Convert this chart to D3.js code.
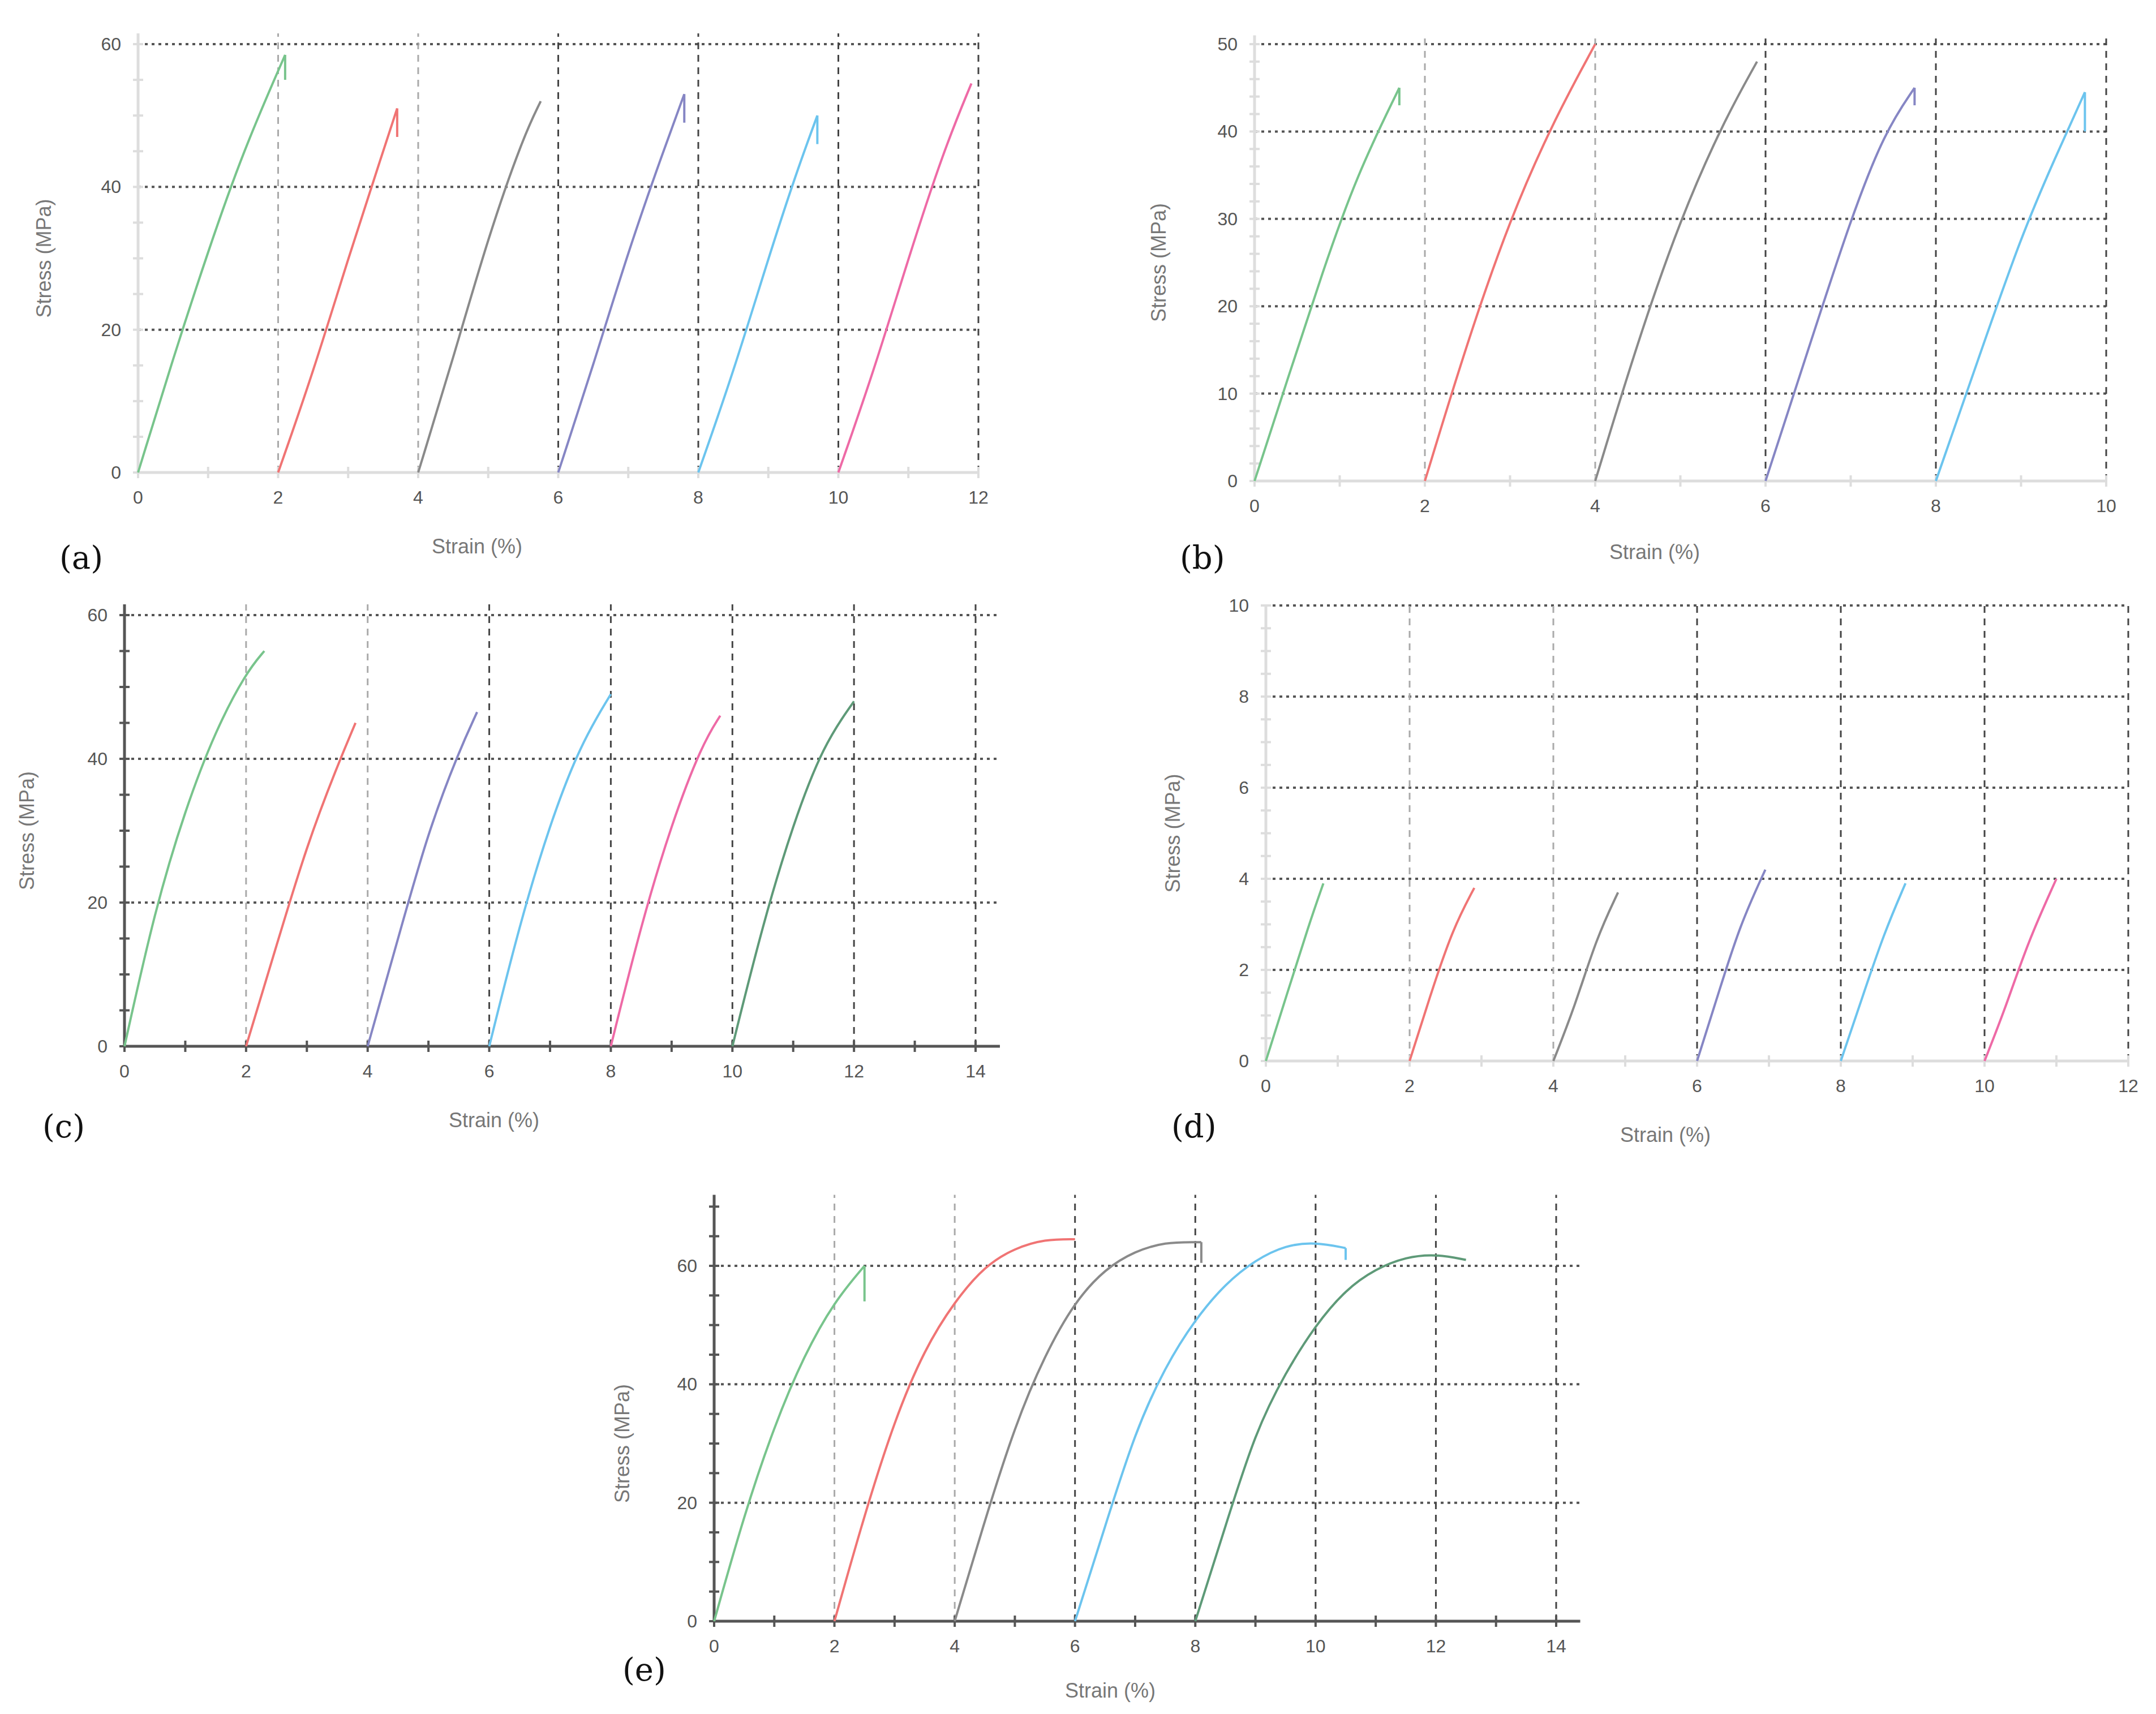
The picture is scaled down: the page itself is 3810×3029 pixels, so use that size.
<!DOCTYPE html>
<html><head><meta charset="utf-8">
<script src="https://cdn.jsdelivr.net/npm/d3@7"></script>
<style>body{margin:0;background:#fff}</style></head>
<body><svg id="c" width="3810" height="3029"></svg>
<script>
const colors = {green:"#78c48c", red:"#f07474", gray:"#8a8a8a", purple:"#8686c4", cyan:"#6cc4ee", pink:"#ee6aa6", dkgreen:"#5e9a78"};
const seriesA = [
 ["green",[[0,0],[0.5,16],[1,31],[1.5,45],[2.1,58.5],[2.1,55]]],
 ["red",[[2,0],[2.5,14],[3,30],[3.5,45],[3.7,51],[3.7,47]]],
 ["gray",[[4,0],[4.5,16],[5,33],[5.5,47],[5.75,52]]],
 ["purple",[[6,0],[6.5,15],[7,31],[7.5,45],[7.8,53],[7.8,49]]],
 ["cyan",[[8,0],[8.5,14],[9,30],[9.4,42],[9.7,50],[9.7,46]]],
 ["pink",[[10,0],[10.5,14],[11,30],[11.5,45],[11.9,54.5]]]];
const seriesB = [
 ["green",[[0,0],[0.4,12],[0.8,24],[1.2,35],[1.7,45],[1.7,43]]],
 ["red",[[2,0],[2.5,16],[3,30],[3.5,41],[4,50]]],
 ["gray",[[4,0],[4.5,16],[5,30],[5.5,41],[5.9,48]]],
 ["purple",[[6,0],[6.5,15],[7,30],[7.4,40],[7.75,45],[7.75,43]]],
 ["cyan",[[8,0],[8.5,14],[9,28],[9.4,37],[9.75,44.5],[9.75,40]]]];
const seriesC = [
 ["green",[[0,0],[0.5,19],[1,33],[1.5,44],[2,52],[2.3,55]]],
 ["red",[[2,0],[2.5,14],[3,28],[3.5,39],[3.8,45]]],
 ["purple",[[4,0],[4.5,15],[5,30],[5.5,41],[5.8,46.5]]],
 ["cyan",[[6,0],[6.5,17],[7,31],[7.5,42],[8,49]]],
 ["pink",[[8,0],[8.5,17],[9,31],[9.5,42],[9.8,46]]],
 ["dkgreen",[[10,0],[10.5,17],[11,31],[11.5,42],[12,48]]]];
const seriesD = [
 ["green",[[0,0],[0.3,1.5],[0.6,3],[0.8,3.9]]],
 ["red",[[2,0],[2.3,1.5],[2.6,2.9],[2.9,3.8]]],
 ["gray",[[4,0],[4.3,1.2],[4.6,2.7],[4.9,3.7]]],
 ["purple",[[6,0],[6.3,1.5],[6.6,3],[6.95,4.2]]],
 ["cyan",[[8,0],[8.3,1.4],[8.6,2.8],[8.9,3.9]]],
 ["pink",[[10,0],[10.3,1.2],[10.6,2.6],[11,4]]]];
const seriesE = [
 ["green",[[0,0],[0.5,18],[1,33],[1.5,45],[2,54],[2.5,60],[2.5,54]]],
 ["red",[[2,0],[2.5,18],[3,34],[3.5,46],[4,54],[4.5,60],[5,63],[5.5,64.5],[6,64.5]]],
 ["gray",[[4,0],[4.5,17],[5,33],[5.5,45],[6,54],[6.5,59.5],[7,62.5],[7.5,64],[8,64],[8.1,64],[8.1,60.5]]],
 ["cyan",[[6,0],[6.5,16],[7,32],[7.5,43],[8,51],[8.5,57],[9,61],[9.5,63.5],[10,64],[10.5,63],[10.5,61]]],
 ["dkgreen",[[8,0],[8.5,16],[9,32],[9.5,42],[10,50],[10.5,56],[11,59.5],[11.5,61.5],[12,62],[12.5,61]]]];
const xTicksA=[0,2,4,6,8,10,12], yTicksA=[0,20,40,60];
const xTicksB=[0,2,4,6,8,10], yTicksB=[0,10,20,30,40,50];
const xTicksC=[0,2,4,6,8,10,12,14], yTicksC=[0,20,40,60];
const xTicksD=[0,2,4,6,8,10,12], yTicksD=[0,2,4,6,8,10];
const xTicksE=[0,2,4,6,8,10,12,14], yTicksE=[0,20,40,60];
const panelLabels=["(a)","(b)","(c)","(d)","(e)"];

const svg=d3.select("#c");
function panel(o){
  const g=svg.append("g");
  const x=d3.scaleLinear().domain([0,o.xmax]).range([o.x0,o.x1]);
  const y=d3.scaleLinear().domain([0,o.ymax]).range([o.y0,o.y1]);
  const right=x(o.xend), top=y(o.ytop);
  o.yt.forEach(v=>{ if(v===0) return;
    g.append("line").attr("x1",x(0)).attr("x2",right).attr("y1",y(v)).attr("y2",y(v))
     .attr("stroke","#555").attr("stroke-width",4).attr("stroke-dasharray","5,7");});
  o.xt.forEach(v=>{ if(v===0) return;
    g.append("line").attr("x1",x(v)).attr("x2",x(v)).attr("y1",y(0)).attr("y2",top)
     .attr("stroke",v>=6?"#444":"#aaa").attr("stroke-width",3).attr("stroke-dasharray","12,10");});
  g.append("line").attr("x1",x(0)).attr("x2",right).attr("y1",y(0)).attr("y2",y(0)).attr("stroke",o.axc).attr("stroke-width",5);
  g.append("line").attr("x1",x(0)).attr("x2",x(0)).attr("y1",y(0)).attr("y2",top).attr("stroke",o.axc).attr("stroke-width",5);
  d3.range(0,o.xend+0.001,1).forEach(v=>g.append("line").attr("x1",x(v)).attr("x2",x(v)).attr("y1",y(0)-10).attr("y2",y(0)+10).attr("stroke",o.axc).attr("stroke-width",4));
  d3.range(0,o.ytop+0.001,o.ymin).forEach(v=>g.append("line").attr("x1",x(0)-9).attr("x2",x(0)+9).attr("y1",y(v)).attr("y2",y(v)).attr("stroke",o.axc).attr("stroke-width",4));
  const f="Liberation Sans, Arial, sans-serif";
  o.xt.forEach(v=>g.append("text").attr("x",x(v)).attr("y",y(0)+55).attr("text-anchor","middle").attr("font-family",f).attr("font-size",32).attr("fill","#555").text(v));
  o.yt.forEach(v=>g.append("text").attr("x",x(0)-30).attr("y",y(v)+11).attr("text-anchor","end").attr("font-family",f).attr("font-size",32).attr("fill","#555").text(v));
  g.append("text").attr("transform",`translate(${o.ylx},${(y(0)+y(o.ymax))/2}) rotate(-90)`).attr("text-anchor","middle").attr("font-family",f).attr("font-size",36).attr("fill","#777").text("Stress (MPa)");
  g.append("text").attr("x",o.xlx).attr("y",o.xly).attr("text-anchor","middle").attr("font-family",f).attr("font-size",36).attr("fill","#777").text("Strain (%)");
  g.append("text").attr("x",o.plx).attr("y",o.ply).attr("font-family","DejaVu Serif, Liberation Serif, serif").attr("font-size",56).attr("fill","#111").text(o.label);
  const line=d3.line().x(d=>x(d[0])).y(d=>y(d[1])).curve(d3.curveBasis);
  const lineL=d3.line().x(d=>x(d[0])).y(d=>y(d[1]));
  o.series.forEach(([c,pts])=>{
    const n=pts.length; const tail=pts[n-1][0]===pts[n-2][0];
    const main=tail?pts.slice(0,n-1):pts;
    g.append("path").attr("d",line(main)).attr("fill","none").attr("stroke",colors[c]).attr("stroke-width",4);
    if(tail) g.append("path").attr("d",lineL(pts.slice(n-2))).attr("fill","none").attr("stroke",colors[c]).attr("stroke-width",4);
  });
}
panel({series:seriesA,xt:xTicksA,yt:yTicksA,xmax:12,ymax:60,xend:12,ytop:61.5,ymin:5,x0:244,x1:1729,y0:835,y1:78,axc:"#ddd",ylx:90,xlx:843,xly:978,plx:105,ply:1005,label:panelLabels[0]});
panel({series:seriesB,xt:xTicksB,yt:yTicksB,xmax:10,ymax:50,xend:10,ytop:51,ymin:2,x0:2217,x1:3722,y0:850,y1:78,axc:"#ddd",ylx:2060,xlx:2924,xly:988,plx:2085,ply:1005,label:panelLabels[1]});
panel({series:seriesC,xt:xTicksC,yt:yTicksC,xmax:14,ymax:60,xend:14.4,ytop:61.5,ymin:5,x0:220,x1:1724,y0:1849,y1:1087,axc:"#555",ylx:60,xlx:873,xly:1992,plx:75,ply:2010,label:panelLabels[2]});
panel({series:seriesD,xt:xTicksD,yt:yTicksD,xmax:12,ymax:10,xend:12,ytop:10,ymin:0.5,x0:2237,x1:3761,y0:1875,y1:1070,axc:"#ddd",ylx:2085,xlx:2943,xly:2018,plx:2070,ply:2010,label:panelLabels[3]});
panel({series:seriesE,xt:xTicksE,yt:yTicksE,xmax:14,ymax:60,xend:14.4,ytop:72,ymin:5,x0:1262,x1:2750,y0:2865,y1:2237,axc:"#555",ylx:1112,xlx:1962,xly:3000,plx:1100,ply:2970,label:panelLabels[4]});
</script></body></html>
